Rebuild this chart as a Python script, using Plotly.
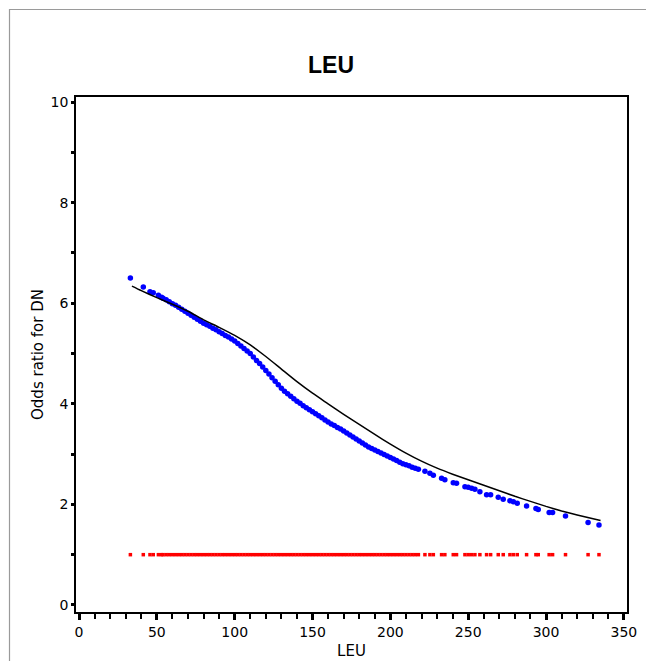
import plotly.graph_objects as go

# ---- data ----
# LEU values of observations
leu_obs = [33, 41.3, 45.6, 47.7, 51, 53,
           54, 56, 58, 60, 62, 64, 66, 68, 70, 72, 74, 76, 78, 80,
           82, 84, 86, 88, 90, 92, 94, 96, 98, 100, 102, 104, 106, 108, 110,
           112, 114, 116, 118, 120, 122, 124, 126, 128, 130, 132, 134, 136, 138, 140,
           142, 144, 146, 148, 150, 152, 154, 156, 158, 160, 162, 164, 166, 168, 170,
           172, 174, 176, 178, 180, 182, 184, 186, 188, 190, 192, 194, 196, 198, 200,
           202, 204, 206, 208, 210, 212, 214, 216, 218,
           222.2, 225.4, 227.6, 232.9, 235, 240.4, 242.5, 247.9, 250, 252.2, 254.3,
           257.5, 261.8, 264.4, 269.3, 272.5, 276.8, 279, 281.5, 287.5, 293.5, 295,
           302, 304.2, 312.5, 327, 334]

# individual predicted odds ratios (blue points)
or_pred = [6.50, 6.32, 6.23, 6.21, 6.16, 6.12,
           6.10, 6.07, 6.03, 5.99, 5.96, 5.92, 5.88, 5.84, 5.80, 5.76, 5.72, 5.68, 5.64, 5.60,
           5.57, 5.54, 5.50, 5.47, 5.43, 5.40, 5.36, 5.33, 5.29, 5.25, 5.20, 5.15, 5.10, 5.05, 5.00,
           4.93, 4.86, 4.80, 4.73, 4.66, 4.59, 4.52, 4.45, 4.38, 4.31, 4.25, 4.20, 4.15, 4.10, 4.05,
           4.01, 3.96, 3.92, 3.88, 3.84, 3.80, 3.76, 3.72, 3.68, 3.64, 3.60, 3.57, 3.53, 3.50, 3.46,
           3.42, 3.38, 3.34, 3.30, 3.26, 3.22, 3.18, 3.14, 3.11, 3.08, 3.05, 3.02, 2.99, 2.96, 2.93,
           2.90, 2.87, 2.84, 2.81, 2.79, 2.77, 2.74, 2.72, 2.70,
           2.66, 2.62, 2.58, 2.52, 2.49, 2.43, 2.42, 2.35, 2.34, 2.32, 2.30,
           2.25, 2.19, 2.19, 2.14, 2.10, 2.07, 2.05, 2.02, 1.97, 1.92, 1.90,
           1.84, 1.84, 1.77, 1.64, 1.59]

# reference odds ratio (red points)
or_ref = [1.0 for _ in leu_obs]

# smooth fitted curve (black line)
leu_fit = [34, 40, 50, 60, 70, 80, 90, 100, 110, 120, 130, 140, 150, 160, 170, 180,
           190, 200, 210, 220, 230, 240, 250, 260, 270, 280, 290, 300, 310, 320, 335]
or_fit = [6.34, 6.25, 6.11, 5.98, 5.84, 5.67, 5.52, 5.36, 5.17, 4.94, 4.69, 4.44, 4.21,
          4.00, 3.79, 3.59, 3.39, 3.20, 3.02, 2.86, 2.72, 2.60, 2.49, 2.38, 2.27, 2.16,
          2.06, 1.96, 1.87, 1.79, 1.68]

x_ticks = [0, 50, 100, 150, 200, 250, 300, 350]
y_ticks = [0, 2, 4, 6, 8, 10]

fig = go.Figure()
fig.add_trace(go.Scatter(x=leu_obs, y=or_ref, mode="markers",
                         marker=dict(symbol="square", size=3.5, color="#FF0000", line=dict(width=0)),
                         showlegend=False))
fig.add_trace(go.Scatter(x=leu_obs, y=or_pred, mode="markers",
                         marker=dict(symbol="circle", size=5.5, color="#0000FF", line=dict(width=0)),
                         showlegend=False))
fig.add_trace(go.Scatter(x=leu_fit, y=or_fit, mode="lines",
                         line=dict(color="black", width=1.5, shape="spline", smoothing=0.6),
                         showlegend=False))

# page body has an 8px margin, so the figure is placed at (8, 8)
OFF = 8
W, H = 654 - OFF, 661 - OFF
L, R, T, B = 76 - OFF, 27, 97 - OFF, 49
pw, ph = W - L - R, H - T - B

def px_x(px):
    return (px - OFF - L) / pw

def px_y(py):
    return (H - B - (py - OFF)) / ph

fig.update_layout(
    template="none",
    width=W, height=H,
    margin=dict(l=L, r=R, t=T, b=B),
    paper_bgcolor="white", plot_bgcolor="white",
    font=dict(family="DejaVu Sans", size=14, color="black"),
    title=dict(text="<b>LEU</b>", x=(331 - OFF) / W, xanchor="center", y=1 - (65 - OFF) / H,
               yanchor="middle",
               font=dict(family="Liberation Sans", size=23, color="black")),
    xaxis=dict(range=[-1.93, 352], tickvals=x_ticks, ticks="outside", ticklen=6, tickwidth=3,
               tickcolor="black", showline=True, linecolor="black", linewidth=1.5, mirror=True,
               showgrid=False, zeroline=False, automargin=False,
               minor=dict(dtick=10, tick0=0, ticks="outside", ticklen=5, tickwidth=1.5, tickcolor="black",
                          showgrid=False),
               tickfont=dict(size=14),
               title=dict(text="LEU", font=dict(size=15), standoff=7)),
    yaxis=dict(range=[-0.14, 10.1], tickvals=y_ticks, ticks="outside", ticklen=3, tickwidth=2.5,
               tickcolor="black", showline=True, linecolor="black", linewidth=1.5, mirror=True,
               showgrid=False, zeroline=False, automargin=False,
               minor=dict(dtick=1, tick0=0, ticks="outside", ticklen=3, tickwidth=2.5, tickcolor="black",
                          showgrid=False),
               tickfont=dict(size=14),
               title=dict(text="Odds ratio for DN", font=dict(size=15), standoff=3)),
    shapes=[
        dict(type="line", xref="paper", yref="paper", x0=px_x(9), x1=px_x(654), y0=px_y(9.5), y1=px_y(9.5),
             line=dict(color="#9a9a9a", width=1.2)),
        dict(type="line", xref="paper", yref="paper", x0=px_x(9.5), x1=px_x(9.5), y0=px_y(9), y1=px_y(661),
             line=dict(color="#9a9a9a", width=1.2)),
    ],
)

fig.write_html("out.html")
